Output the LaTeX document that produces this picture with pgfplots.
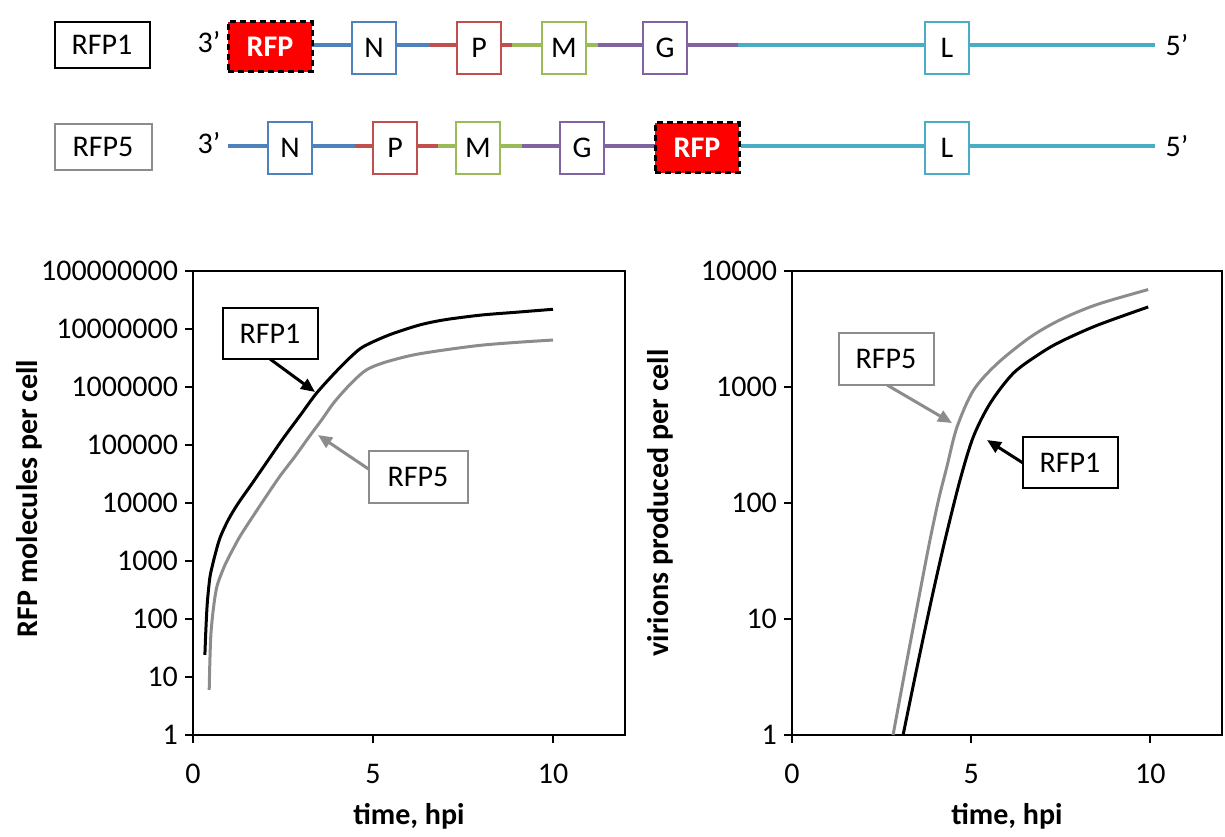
\documentclass[border=0pt]{standalone}
\usepackage{fontspec}
\setmainfont{Carlito}
\usepackage{pgfplots}
\pgfplotsset{compat=1.18}
\usetikzlibrary{arrows.meta}
\definecolor{gN}{HTML}{4F81BD}
\definecolor{gP}{HTML}{C0504D}
\definecolor{gM}{HTML}{9BBB59}
\definecolor{gG}{HTML}{8064A2}
\definecolor{gL}{HTML}{4BACC6}
\definecolor{cgray}{HTML}{8C8C8C}
\newcommand{\bigf}{\fontsize{15}{18}\selectfont}
\pgfkeys{/pgf/number format/assume math mode=true}
\pgfplotsset{
  myaxis/.style={
    scale only axis, xmin=0, xmax=12,
    xtick={0,5,10}, xtick pos=bottom, ytick pos=left,
    tick align=outside, major tick length=4pt, yminorticks=false,
    axis line style={line width=1pt}, every tick/.style={black, line width=1pt},
    tick label style={font=\bigf},
    xticklabel style={yshift=-7pt},
    label style={font=\bigf\bfseries},
    xlabel={time, hpi},
    xlabel style={at={(axis description cs:0.5,-0.176)}, anchor=center},
    clip=false,
  }
}
\begin{document}
\begin{tikzpicture}
\begin{scope}[x=0.5pt,y=-0.5pt]
\path[use as bounding box] (0,0) rectangle (1225,832);
% genome row 1
\draw[gN, line width=2pt] (312,45) -- (430,45);
\draw[gP, line width=2pt] (430,45) -- (512,45);
\draw[gM, line width=2pt] (512,45) -- (598,45);
\draw[gG, line width=2pt] (598,45) -- (738,45);
\draw[gL, line width=2pt] (738,45) -- (1155,45);
% genome row 2
\draw[gN, line width=2pt] (228,146) -- (355,146);
\draw[gP, line width=2pt] (355,146) -- (438,146);
\draw[gM, line width=2pt] (438,146) -- (522,146);
\draw[gG, line width=2pt] (522,146) -- (655,146);
\draw[gL, line width=2pt] (741,146) -- (1155,146);
\tikzset{gene/.style={draw=#1, fill=white, line width=0.8pt, minimum width=22pt, minimum height=26pt, inner sep=0pt, font=\bigf},
  rfp/.style={draw=black, fill=red, line width=1.5pt, dash pattern=on 3pt off 2pt, minimum width=42pt, minimum height=25pt, inner sep=0pt, font=\bigf\bfseries, text=white}}
\node[rfp] at (270,47) {RFP};
\node[gene=gN] at (374,48) {N};
\node[gene=gP] at (479,48) {P};
\node[gene=gM] at (564,48) {M};
\node[gene=gG] at (665,48) {G};
\node[gene=gL] at (947,48) {L};
\node[gene=gN] at (290,148) {N};
\node[gene=gP] at (395,148) {P};
\node[gene=gM] at (478,148) {M};
\node[gene=gG] at (582,148) {G};
\node[rfp] at (697,148) {RFP};
\node[gene=gL] at (947,148) {L};
\node[font=\bigf] at (209,42) {3’};
\node[font=\bigf] at (209,143) {3’};
\node[font=\bigf] at (1177,45) {5’};
\node[font=\bigf] at (1177,146) {5’};
\node[draw=black, line width=1pt, minimum width=47.5pt, minimum height=23pt, font=\bigf] at (102,45) {RFP1};
\node[draw=cgray, line width=1pt, minimum width=48.5pt, minimum height=23pt, font=\bigf] at (103,147) {RFP5};
\end{scope}

% left plot
\begin{axis}[myaxis, ymode=log, at={(96.5pt,-367.5pt)}, anchor=south west, width=216pt, height=232pt,
  ymin=1, ymax=1e8,
  ytick={1,10,100,1000,10000,100000,1000000,10000000,100000000},
  yticklabels={1,10,100,1000,10000,100000,1000000,10000000,100000000},
  ylabel={RFP molecules per cell},
  ylabel style={at={(axis description cs:-0.378,0.51)}, anchor=center}]
\addplot[black, line width=1.5pt, smooth, tension=0.5] coordinates {
(0.33,24) (0.36,71) (0.40,200) (0.47,525) (0.55,891) (0.61,1259) (0.75,2512) (0.98,5129)
(1.25,9772) (1.6,19950) (2.0,45710) (2.5,128800) (3.0,338800) (3.4,741300)
(3.8,1413000) (4.2,2570000) (4.6,4365000) (4.9,5623000) (5.5,8128000) (6.3,11750000)
(7.0,14450000) (8.0,17380000) (9.0,19500000) (10.0,21880000)};
\addplot[cgray, line width=1.5pt, smooth, tension=0.5] coordinates {
(0.45,6) (0.47,20) (0.5,58) (0.57,158) (0.66,355) (0.8,631) (0.94,1000) (1.15,1778)
(1.35,2951) (1.91,10000) (2.4,28180) (2.83,63100) (3.2,131800) (3.57,269200)
(3.9,524800) (4.22,891300) (4.5,1349000) (4.83,1995000) (5.3,2630000)
(6.1,3548000) (7.0,4365000) (8.0,5248000) (9.0,5888000) (10.0,6457000)};
\end{axis}

% right plot
\begin{axis}[myaxis, ymode=log, at={(396pt,-367.5pt)}, anchor=south west, width=215pt, height=232pt,
  ymin=1, ymax=10000,
  ytick={1,10,100,1000,10000},
  yticklabels={1,10,100,1000,10000},
  ylabel={virions produced per cell},
  ylabel style={at={(axis description cs:-0.307,0.5)}, anchor=center}]
\addplot[black, line width=1.5pt, smooth, tension=0.5] coordinates {
(3.1,1) (3.5,3.98) (3.9,15.1) (4.27,47.9) (4.69,158) (5.06,372) (5.53,724) (6.18,1318)
(6.93,1950) (7.49,2455) (8.5,3388) (9.94,4898)};
\addplot[cgray, line width=1.5pt, smooth, tension=0.5] coordinates {
(2.82,1) (3.2,4.27) (3.6,19.1) (3.85,47.9) (4.1,110) (4.32,204) (4.6,447) (5.06,933)
(5.72,1585) (6.65,2692) (7.49,3802) (8.5,5129) (9.94,6918)};
\end{axis}

% annotations
\begin{scope}[x=0.5pt,y=-0.5pt]
\draw[black, line width=1.5pt, -{Triangle[length=7pt,width=6pt]}] (270,359) -- (315,392);
\node[draw=black, fill=white, line width=1pt, minimum width=47.5pt, minimum height=25.5pt, font=\bigf] at (270,334) {RFP1};
\draw[cgray, line width=1.5pt, -{Triangle[length=7pt,width=6pt]}] (370,470) -- (318,435);
\node[draw=cgray, fill=white, line width=1pt, minimum width=49.5pt, minimum height=26pt, font=\bigf] at (418,477) {RFP5};
\draw[cgray, line width=1.5pt, -{Triangle[length=7pt,width=6pt]}] (887,385) -- (952,423);
\node[draw=cgray, fill=white, line width=1pt, minimum width=47.5pt, minimum height=26pt, font=\bigf] at (886,359) {RFP5};
\draw[black, line width=1.5pt, -{Triangle[length=7pt,width=6pt]}] (1023,463) -- (987,440);
\node[draw=black, fill=white, line width=1pt, minimum width=47.5pt, minimum height=25.5pt, font=\bigf] at (1070,463) {RFP1};
\end{scope}
\end{tikzpicture}
\end{document}
